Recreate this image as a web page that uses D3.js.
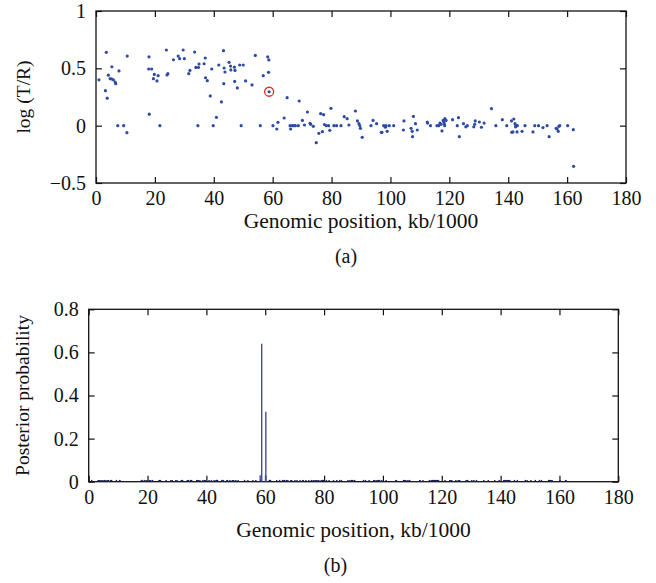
<!DOCTYPE html>
<html><head><meta charset="utf-8">
<script src="https://cdn.jsdelivr.net/npm/d3@7"></script>
<style>body{margin:0;background:#fff}svg{display:block}svg text{font-family:"Liberation Serif",serif;fill:#111}</style>
</head><body><svg id="c" width="656" height="583"></svg>
<script>
// genomic positions (kb/1000) of the probes
const positions = [1.0,3.2,3.5,3.8,4.2,4.8,5.3,5.4,5.9,6.5,6.7,7.4,7.8,9.4,10.5,10.6,17.9,18.0,18.1,18.9,19.5,19.8,20.7,21.1,21.7,23.9,24.1,24.4,26.3,27.9,28.4,29.6,30.0,31.5,31.9,33.5,33.9,34.6,34.8,35.0,36.7,37.1,37.2,37.8,38.8,39.3,39.8,40.9,41.7,42.6,43.3,43.4,43.5,43.8,45.2,45.7,45.8,47.0,47.2,47.1,48.0,48.8,49.3,50.0,50.8,53.0,54.1,55.8,56.8,58.3,58.6,58.7,58.8,60.1,61.4,61.8,63.9,64.9,65.9,66.1,66.6,67.2,67.7,68.7,69.0,70.1,70.8,71.8,72.7,72.9,73.8,74.8,75.7,76.3,76.9,77.3,77.6,78.2,79.0,79.4,79.8,80.8,81.7,83.2,84.3,85.3,85.9,88.1,88.8,89.3,89.6,89.8,90.4,93.4,94.1,95.3,96.9,97.1,97.7,98.3,98.5,98.9,99.6,101.1,104.4,104.6,107.0,107.4,107.5,107.8,108.5,109.1,112.5,112.6,113.6,115.8,116.4,116.8,117.2,117.5,117.9,118.1,118.3,118.5,118.4,118.9,121.1,122.7,123.1,123.4,124.8,125.6,126.1,128.3,128.6,128.8,130.2,130.9,131.8,134.3,135.8,138.0,139.5,141.1,141.2,141.6,141.9,142.3,142.6,143.1,142.5,143.0,144.7,145.7,148.4,149.0,150.3,151.8,153.2,153.9,156.3,156.6,157.0,157.2,157.5,160.2,162.1,162.2];
// log(T/R) values
const logRatio = [0.40,0.305,0.64,0.24,0.44,0.41,0.407,0.514,0.40,0.38,0.366,0.0,0.477,0.0,-0.061,0.607,0.494,0.60,0.10,0.494,0.41,0.447,0.39,0.436,0.0,0.66,0.442,0.453,0.575,0.607,0.584,0.66,0.584,0.453,0.482,0.642,0.508,0.0,0.508,0.538,0.54,0.59,0.418,0.392,0.259,0.494,0.0,0.073,0.529,0.207,0.654,0.366,0.503,0.468,0.552,0.52,0.486,0.51,0.482,0.386,0.329,0.529,0.0,0.529,0.39,0.355,0.613,0.0,0.436,0.60,0.465,0.573,0.296,0.0,-0.029,0.029,0.067,0.244,0,-0.029,0,0,0,0,0.215,0.046,0.006,0.119,0.02,0.012,-0.006,-0.148,-0.067,0.105,-0.052,0.096,0.01,0,0,-0.041,0.151,0,0,0,0.078,0.061,0.006,0.128,0.041,0.017,0,-0.023,-0.102,0,0.046,0.017,-0.058,-0.058,0,-0.014,0,-0.049,0,0,-0.038,0.041,-0.023,-0.049,-0.096,0.081,0.017,-0.038,0.032,0.023,0,0,0,0.023,0.012,-0.046,0.046,0.035,0.017,0.061,0,0.046,0.052,0,0.07,-0.096,0.017,-0.01,0,-0.01,0.012,0.041,0.032,-0.014,0.023,0.148,0,0.052,0,0.041,-0.058,-0.055,0.058,0.017,0,0,-0.01,-0.055,-0.049,0,-0.055,0,0,-0.017,0,-0.096,-0.023,-0.029,-0.049,-0.006,0,0,-0.035,-0.355];
// highlighted breakpoint probe
const highlightPos = [58.8];
const highlightVal = [0.296];
// posterior probability peaks (all other probes ~0)
const peakPos = [58.3,58.8,60.1,60.2];
const peakProb = [0.03,0.64,0.03,0.325];
const baseProb = 0.006;
const xTicks = [0,20,40,60,80,100,120,140,160,180];
const yTicksA = [-0.5,0,0.5,1];
const yTicksB = [0,0.2,0.4,0.6,0.8];
const xTitle = "Genomic position, kb/1000";
const yTitleA = "log (T/R)";
const yTitleB = "Posterior probability";

const posterior = positions.map(p => { const i = peakPos.indexOf(p); return i >= 0 ? peakProb[i] : baseProb; });
peakPos.forEach((p,i)=>{ if(!positions.includes(p)){ positions.push(p); posterior.push(peakProb[i]); } });

const svg = d3.select("#c");
const FS = 20;
const fmt = d => d < 0 ? "\u2212" + Math.abs(d) : String(d);

function panel(o){
  const x = d3.scaleLinear().domain([0,180]).range([o.l,o.r]);
  const y = d3.scaleLinear().domain(o.yd).range([o.b,o.t]);
  const g = svg.append("g");
  const tl = 6;
  const ax = g.append("g").attr("transform",`translate(0,${o.b})`)
    .call(d3.axisBottom(x).tickValues(xTicks).tickSizeInner(-tl).tickSizeOuter(0).tickPadding(8).tickFormat(d=>d));
  const ay = g.append("g").attr("transform",`translate(${o.l},0)`)
    .call(d3.axisLeft(y).tickValues(o.yt).tickSizeInner(-tl).tickSizeOuter(0).tickPadding(10).tickFormat(fmt));
  const at = g.append("g").attr("transform",`translate(0,${o.t})`)
    .call(d3.axisTop(x).tickValues(xTicks).tickSizeInner(-tl).tickSizeOuter(0).tickFormat(""));
  const ar = g.append("g").attr("transform",`translate(${o.r},0)`)
    .call(d3.axisRight(y).tickValues(o.yt).tickSizeInner(-tl).tickSizeOuter(0).tickFormat(""));
  [ax,ay,at,ar].forEach(a=>{
    a.select(".domain").remove();
    a.selectAll("line").attr("stroke","#111").attr("stroke-width",1.2);
    a.selectAll("text").attr("font-size",FS).attr("font-family",null);
  });
  g.append("rect").attr("x",o.l).attr("y",o.t).attr("width",o.r-o.l).attr("height",o.b-o.t)
    .attr("fill","none").attr("stroke","#111").attr("stroke-width",1.3);
  g.append("text").attr("x",(o.l+o.r)/2).attr("y",o.b+o.tdy).attr("text-anchor","middle").attr("font-size",21.5).text(xTitle);
  g.append("text").attr("transform",`translate(${o.yl},${(o.t+o.b)/2}) rotate(-90)`).attr("text-anchor","middle").attr("font-size",19.5).text(o.ytitle);
  g.append("text").attr("x",(o.l+o.r)/2 + o.capdx).attr("y",o.b+o.capdy).attr("text-anchor","middle").attr("font-size",FS).text(o.cap);
  return {x,y,g};
}

const A = panel({l:96,r:626,t:11,b:183,yd:[-0.5,1],yt:yTicksA,ytitle:yTitleA,yl:30,cap:"(a)",capdx:-15,tdy:45,capdy:80});
A.g.append("g").selectAll("circle").data(positions.slice(0,logRatio.length)).join("circle")
  .attr("cx",(d)=>A.x(d)).attr("cy",(d,i)=>A.y(logRatio[i])).attr("r",1.6).attr("fill","#2d4ba6");
A.g.append("g").selectAll("circle").data(highlightPos).join("circle")
  .attr("cx",d=>A.x(d)).attr("cy",(d,i)=>A.y(highlightVal[i])).attr("r",4.5)
  .attr("fill","none").attr("stroke","#e0282a").attr("stroke-width",1.3);

const B = panel({l:88.7,r:618.3,t:309.3,b:481.7,yd:[0,0.8],yt:yTicksB,ytitle:yTitleB,yl:29,cap:"(b)",capdx:-18,tdy:55,capdy:90});
B.g.append("g").selectAll("line").data(positions).join("line")
  .attr("x1",d=>B.x(d)).attr("x2",d=>B.x(d))
  .attr("y1",B.y(0)).attr("y2",(d,i)=>B.y(posterior[i]) - (posterior[i]===baseProb?0.5:0))
  .attr("stroke",(d,i)=>posterior[i]===baseProb?"#1c2050":"#454a9c").attr("stroke-width",1.4);
</script></body></html>
